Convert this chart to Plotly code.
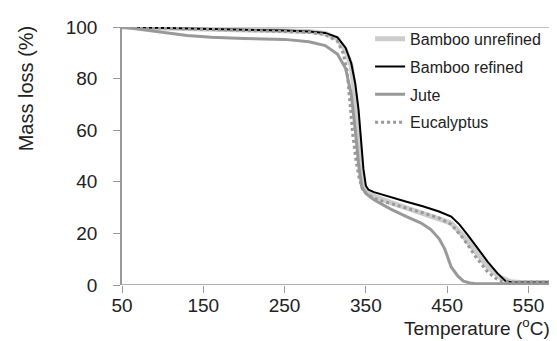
import plotly.graph_objects as go

# Bamboo unrefined
t_bu = [50, 100, 150, 200, 250, 280, 300, 315, 325, 332, 338, 342, 346, 350, 360, 380, 400, 420, 440, 455, 470, 485, 500, 515, 528, 540, 560, 600]
m_bu = [100, 99.7, 99.3, 99, 98.7, 98.3, 97.5, 95.5, 91, 85, 70, 52, 40, 36.5, 34.5, 32, 30, 28, 26, 24, 19, 13, 7, 3, 1.3, 1, 1, 1]
# Bamboo refined
t_br = [50, 100, 150, 200, 250, 280, 300, 315, 325, 332, 337, 341, 344, 347, 350, 353, 360, 380, 400, 420, 440, 455, 465, 475, 490, 500, 512, 522, 530, 600]
m_br = [100, 99.7, 99.3, 99, 98.6, 98.3, 97.7, 96, 92, 86, 78, 68, 56, 45, 38.5, 37, 36, 34, 32.3, 30.5, 28.5, 26.5, 23.5, 19.5, 13, 9, 4.5, 1.5, 1, 1]
# Jute
t_ju = [50, 75, 100, 130, 160, 200, 250, 280, 300, 315, 325, 332, 337, 341, 345, 350, 360, 380, 400, 418, 430, 440, 447, 455, 463, 470, 478, 485, 500, 600]
m_ju = [100, 99, 97.8, 96.7, 96, 95.5, 95.2, 94.3, 92.8, 89.5, 84, 74, 60, 47, 38, 35.5, 33, 29.5, 26.5, 24, 21.5, 18, 14, 7, 3.5, 1.5, 0.8, 0.5, 0.5, 0.5]
# Eucalyptus
t_eu = [50, 100, 150, 200, 250, 280, 300, 315, 322, 327, 330, 334, 338, 342, 346, 352, 365, 380, 400, 420, 440, 455, 470, 485, 500, 510, 518, 530, 600]
m_eu = [100, 99.6, 99.2, 98.9, 98.5, 98, 97, 94.5, 90, 83, 72, 58, 48, 41, 37, 35, 33, 31.5, 29.8, 28, 26, 23.5, 18, 11, 5, 2.5, 1.3, 1.2, 1.2]

x_ticks = [50, 150, 250, 350, 450, 550]
y_ticks = [0, 20, 40, 60, 80, 100]

series = [
    ("Bamboo unrefined", t_bu, m_bu, dict(color="#cccccc", width=5)),
    ("Bamboo refined", t_br, m_br, dict(color="#000000", width=2)),
    ("Jute", t_ju, m_ju, dict(color="#999999", width=3)),
    ("Eucalyptus", t_eu, m_eu, dict(color="#999999", width=3, dash="3px,3px")),
]

fig = go.Figure()
for i, (name, tx, my, ln) in enumerate(series):
    fig.add_trace(go.Scatter(x=tx, y=my, mode="lines", name=name, line=ln,
                             legendgroup=f"g{i}"))

fam = "Liberation Sans, Arial, sans-serif"
tickfont = dict(family=fam, size=19, color="#222222")
titlefont = dict(family=fam, size=20, color="#222222")
xtitlefont = dict(family=fam, size=19, color="#222222")
legfont = dict(family=fam, size=16, color="#222222")

fig.update_layout(
    width=557, height=341,
    margin=dict(l=114, r=0, t=19, b=64),
    paper_bgcolor="white", plot_bgcolor="white",
    font=tickfont,
    showlegend=True,
    legend=dict(x=0.56, y=1.02, xanchor="left", yanchor="top",
                bgcolor="rgba(0,0,0,0)", font=legfont, tracegroupgap=4),
    xaxis=dict(range=[50, 595], tickvals=x_ticks, showgrid=False, zeroline=False,
               showline=False, ticks="outside", ticklen=7, tickcolor="#999999",
               tickfont=tickfont, ticklabelstandoff=-4),
    yaxis=dict(range=[0, 100], tickvals=y_ticks, showgrid=False, zeroline=False,
               showline=True, linecolor="#999999", linewidth=1.5,
               ticks="outside", ticklen=7, tickcolor="#999999", tickfont=tickfont,
               ticklabelstandoff=12),
    annotations=[
        dict(text="Temperature (<sup>o</sup>C)", xref="paper", yref="paper",
             x=0.801, y=-0.163, xanchor="center", yanchor="middle",
             showarrow=False, font=xtitlefont),
        dict(text="Mass loss (%)", xref="paper", yref="paper",
             x=-0.218, y=0.764, xanchor="center", yanchor="middle", textangle=-90,
             showarrow=False, font=titlefont),
    ],
    shapes=[
        dict(type="line", xref="paper", yref="y", x0=0, x1=1, y0=0, y1=0,
             line=dict(color="#999999", width=1.5), layer="below"),
        dict(type="line", xref="paper", yref="y", x0=0, x1=1, y0=100, y1=100,
             line=dict(color="#888888", width=1), layer="below"),
    ],
)

fig.write_html("out.html")
